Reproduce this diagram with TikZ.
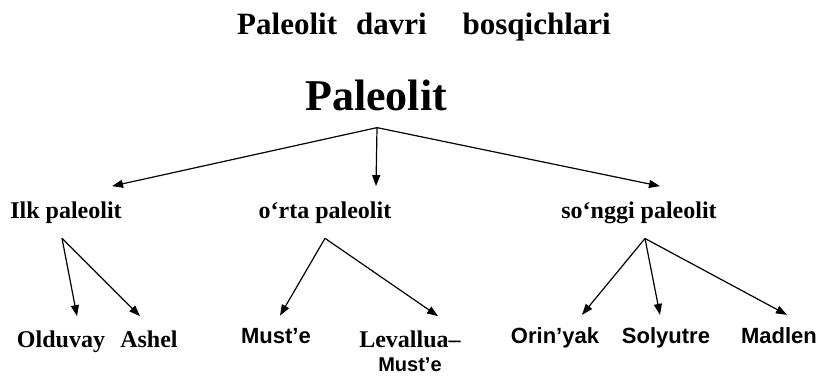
\documentclass[tikz,border=0pt]{standalone}
\usepackage{fontspec}
\setmainfont{Liberation Serif}
\setsansfont{Liberation Sans}
\usetikzlibrary{arrows.meta}

\tikzset{
  arr/.style={-{Triangle[length=11pt,width=8pt]}, line width=1.2pt},
  stage/.style={font=\bfseries\fontsize{24}{27}\selectfont, inner xsep=0pt, inner ysep=15pt, anchor=base},
  culture/.style={font=\bfseries\fontsize{24}{27}\selectfont, inner xsep=0pt, inner ysep=14pt, anchor=base},
  culturesf/.style={font=\sffamily\bfseries\fontsize{22}{26}\selectfont, inner xsep=0pt, inner ysep=12pt, anchor=base},
}

\begin{document}
\begin{tikzpicture}[x=1pt, y=-1pt]
\useasboundingbox (0,0) rectangle (819,375);
% title
\node[font=\bfseries\fontsize{31}{36}\selectfont, anchor=base] (title) at (424,34)
  {Paleolit\hspace{19pt}davri\hspace{36pt}bosqichlari};
\node[font=\bfseries\fontsize{44}{50}\selectfont, anchor=base, inner xsep=0pt, inner ysep=17pt]
  (paleolit) at (376,110) {Paleolit};
% stages
\node[stage] (ilk)    at (66,218)  {Ilk paleolit};
\node[stage] (orta)   at (325,218) {o‘rta paleolit};
\node[stage] (songgi) at (639,218) {so‘nggi paleolit};
% cultures
\node[culture]   (olduvay)  at (61,347)  {Olduvay};
\node[culture]   (ashel)    at (149,347) {Ashel};
\node[culturesf] (muste)    at (276,343) {Must’e};
\node[culture, align=center, font=\bfseries\fontsize{24}{24}\selectfont] (levallua) at (410,371)
  {Levallua–\\{\sffamily\fontsize{20}{24}\selectfont Must’e}};
\node[culturesf] (orinyak)  at (555,343) {Orin’yak};
\node[culturesf] (solyutre) at (666,343) {Solyutre};
\node[culturesf] (madlen)   at (779,343) {Madlen};
% forks
\coordinate (paleolit-fork) at ([xshift=1pt]paleolit.south);
\coordinate (ilk-fork)      at ([xshift=-4pt]ilk.south);
\coordinate (orta-fork)     at (orta.south);
\coordinate (songgi-fork)   at ([xshift=6pt]songgi.south);
% arrows
\foreach \n/\dx in {ilk/46, orta/51, songgi/21}
  \draw[arr] (paleolit-fork) -- ([xshift=\dx pt]\n.north);
\foreach \n/\dx in {olduvay/16, ashel/-9}
  \draw[arr] (ilk-fork) -- ([xshift=\dx pt]\n.north);
\foreach \n/\dx in {muste/4, levallua/28}
  \draw[arr] (orta-fork) -- ([xshift=\dx pt]\n.north);
\foreach \n/\dx in {orinyak/27, solyutre/-6, madlen/8}
  \draw[arr] (songgi-fork) -- ([xshift=\dx pt]\n.north);
\end{tikzpicture}
\end{document}
